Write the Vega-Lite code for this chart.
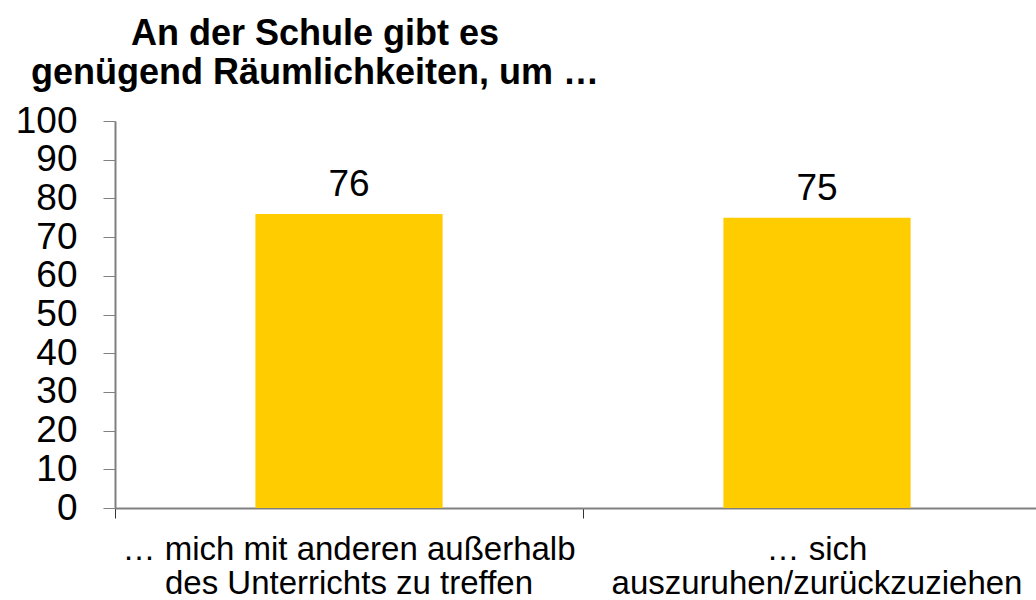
{
  "$schema": "https://vega.github.io/schema/vega-lite/v6.json",
  "width": 921,
  "height": 387,
  "autosize": {"type": "none"},
  "padding": {"left": 115, "top": 121, "right": 0, "bottom": 92},
  "background": "white",
  "config": {
    "view": {"stroke": null},
    "font": "Liberation Sans"
  },
  "title": {
    "text": ["An der Schule gibt es", "genügend Räumlichkeiten, um …"],
    "font": "Liberation Sans",
    "fontSize": 36,
    "fontWeight": "bold",
    "color": "black",
    "lineHeight": 39,
    "anchor": "start",
    "frame": "group",
    "align": "center",
    "dx": 200,
    "offset": 10
  },
  "data": {
    "values": [
      {"kategorie": "… mich mit anderen außerhalb\ndes Unterrichts zu treffen", "prozent": 76},
      {"kategorie": "… sich\nauszuruhen/zurückzuziehen", "prozent": 75}
    ]
  },
  "encoding": {
    "x": {
      "field": "kategorie",
      "type": "nominal",
      "sort": null,
      "scale": {"type": "band", "range": [0, 936], "paddingInner": 0, "paddingOuter": 0},
      "axis": {
        "title": null,
        "labelAngle": 0,
        "labelExpr": "split(datum.value, '\\n')",
        "labelFont": "Liberation Sans",
        "labelFontSize": 33,
        "labelLineHeight": 34,
        "labelColor": "black",
        "labelPadding": 15,
        "labelLimit": 600,
        "bandPosition": 0,
        "tickSize": 10,
        "tickColor": "#333333",
        "domainColor": "#808080",
        "domainWidth": 2,
        "grid": false
      }
    },
    "y": {
      "field": "prozent",
      "type": "quantitative",
      "scale": {"domain": [0, 100], "nice": false},
      "axis": {
        "title": null,
        "values": [0, 10, 20, 30, 40, 50, 60, 70, 80, 90, 100],
        "labelOverlap": false,
        "labelBound": false,
        "labelFlush": false,
        "labelFont": "Liberation Sans",
        "labelFontSize": 37,
        "labelColor": "black",
        "labelPadding": 26,
        "tickSize": 12,
        "tickColor": "#808080",
        "domainColor": "#808080",
        "domainWidth": 2,
        "grid": false
      }
    }
  },
  "layer": [
    {
      "mark": {"type": "bar", "color": "#FFCC00", "width": {"band": 0.4}}
    },
    {
      "mark": {"type": "text", "baseline": "bottom", "dy": -10, "fontSize": 37, "font": "Liberation Sans", "color": "black"},
      "encoding": {
        "text": {"field": "prozent", "type": "quantitative"}
      }
    }
  ]
}
